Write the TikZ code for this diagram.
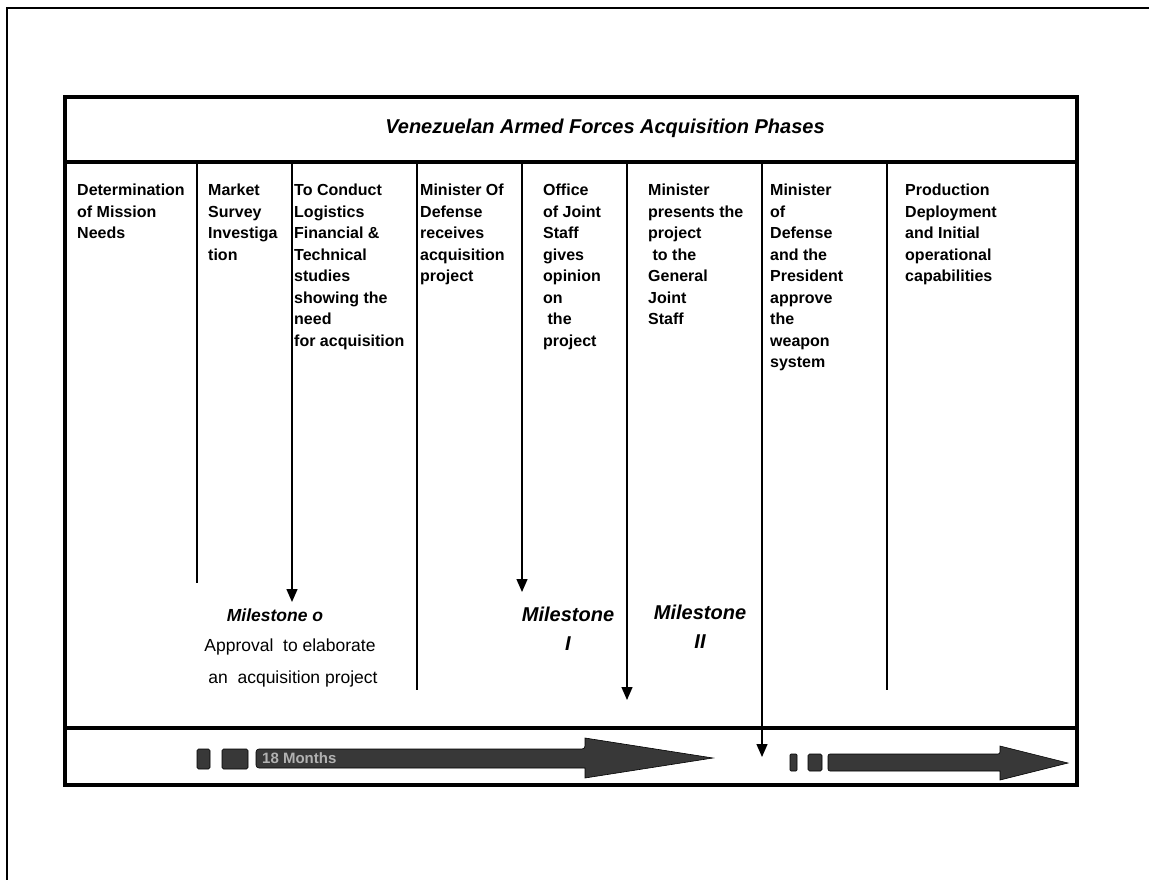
\documentclass[tikz,border=0pt]{standalone}
\usepackage{fontspec}
\setmainfont{Liberation Sans}
\usetikzlibrary{arrows.meta}
\begin{document}
\begin{tikzpicture}[x=1pt,y=-1pt,
  outer/.style={line width=2.2pt},
  boxline/.style={line width=3.4pt},
  divider/.style={line width=1.4pt},
  msarrow/.style={line width=1.4pt,-{Triangle[length=13pt,width=11pt]}},
  coltext/.style={anchor=north west,align=left,inner sep=0pt,
    font=\bfseries\fontsize{16}{21.5}\selectfont},
  mstitle/.style={align=center,inner sep=0pt,
    font=\bfseries\itshape\fontsize{20}{29}\selectfont},
  mstext/.style={inner sep=0pt,font=\fontsize{17.5}{22}\selectfont},
  barfill/.style={fill=black!78,draw=black,line width=0.6pt},
  bartext/.style={inner sep=0pt,text=black!30,font=\bfseries\fontsize{15}{18}\selectfont}
]
\useasboundingbox (0,0) rectangle (1149,880);
% outer frame
\coordinate (ofbl) at (7,880);
\coordinate (oftl) at (7,8);
\coordinate (oftr) at (1149,8);
\draw[outer] (ofbl) -- (oftl) -- (oftr);
% inner box
\coordinate (bxtl) at (65,97);
\coordinate (bxbr) at (1077,785);
\draw[boxline] (bxtl) rectangle (bxbr);
\coordinate (hsl) at (65,162);
\coordinate (hsr) at (1077,162);
\draw[boxline] (hsl) -- (hsr);
\coordinate (bsl) at (65,728);
\coordinate (bsr) at (1077,728);
\draw[boxline] (bsl) -- (bsr);
% title
\node[inner sep=0pt,font=\bfseries\itshape\fontsize{20}{24}\selectfont] (title) at (605,128)
  {Venezuelan Armed Forces Acquisition Phases};
% dividers
\coordinate (d1t) at (197,162); \coordinate (d1b) at (197,583);
\coordinate (d2t) at (292,162); \coordinate (d2b) at (292,602);
\coordinate (d3t) at (417,162); \coordinate (d3b) at (417,690);
\coordinate (d4t) at (522,162); \coordinate (d4b) at (522,592);
\coordinate (d5t) at (627,162); \coordinate (d5b) at (627,700);
\coordinate (d6t) at (762,162); \coordinate (d6b) at (762,757);
\coordinate (d7t) at (887,162); \coordinate (d7b) at (887,690);
\draw[divider] (d1t) -- (d1b);
\draw[msarrow] (d2t) -- (d2b);
\draw[divider] (d3t) -- (d3b);
\draw[msarrow] (d4t) -- (d4b);
\draw[msarrow] (d5t) -- (d5b);
\draw[msarrow] (d6t) -- (d6b);
\draw[divider] (d7t) -- (d7b);
% column texts
\node[coltext] (c1) at (77,184) {Determination\\of Mission\\Needs};
\node[coltext] (c2) at (208,184) {Market\\Survey\\Investiga\\tion};
\node[coltext] (c3) at (294,184) {To Conduct\\Logistics\\Financial \&\\Technical\\studies\\showing the\\need\\for acquisition};
\node[coltext] (c4) at (420,184) {Minister Of\\Defense\\receives\\acquisition\\project};
\node[coltext] (c5) at (543,184) {Office\\of Joint\\Staff\\gives\\opinion\\on\\\ the\\project};
\node[coltext] (c6) at (648,184) {Minister\\presents the\\project\\\ to the\\General\\Joint\\Staff};
\node[coltext] (c7) at (770,184) {Minister\\of\\Defense\\and the\\President\\approve\\the\\weapon\\system};
\node[coltext] (c8) at (905,184) {Production\\Deployment\\and Initial\\operational\\capabilities};
% milestones
\node[inner sep=0pt,font=\bfseries\itshape\fontsize{17.5}{22}\selectfont] (m0) at (275,615) {Milestone o};
\node[mstext] (m0a) at (290,647) {Approval\ \ to elaborate};
\node[mstext] (m0b) at (293,679) {an\ \ acquisition project};
\node[mstitle] (m1) at (568,629) {Milestone\\I};
\node[mstitle] (m2) at (700,627) {Milestone\\II};
% bottom bar
\draw[barfill,rounded corners=1.5pt] (197,749) rectangle (210,769);
\draw[barfill,rounded corners=1.5pt] (222,749) rectangle (248,769);
\draw[barfill,rounded corners=3pt] (256,749) -- (585,749) [sharp corners] -- (585,738) -- (713,758) -- (585,778) -- (585,768) [rounded corners=3pt] -- (256,768) -- cycle;
\node[bartext,anchor=west] (t1) at (262,758.5) {18 Months};
\draw[barfill,rounded corners=1pt] (790,754) rectangle (797,771);
\draw[barfill,rounded corners=1.5pt] (808,754) rectangle (822,771);
\draw[barfill,rounded corners=2pt] (828,754) -- (1000,754) [sharp corners] -- (1000,746) -- (1068,763) -- (1000,780) -- (1000,771) [rounded corners=2pt] -- (828,771) -- cycle;
\end{tikzpicture}
\end{document}
